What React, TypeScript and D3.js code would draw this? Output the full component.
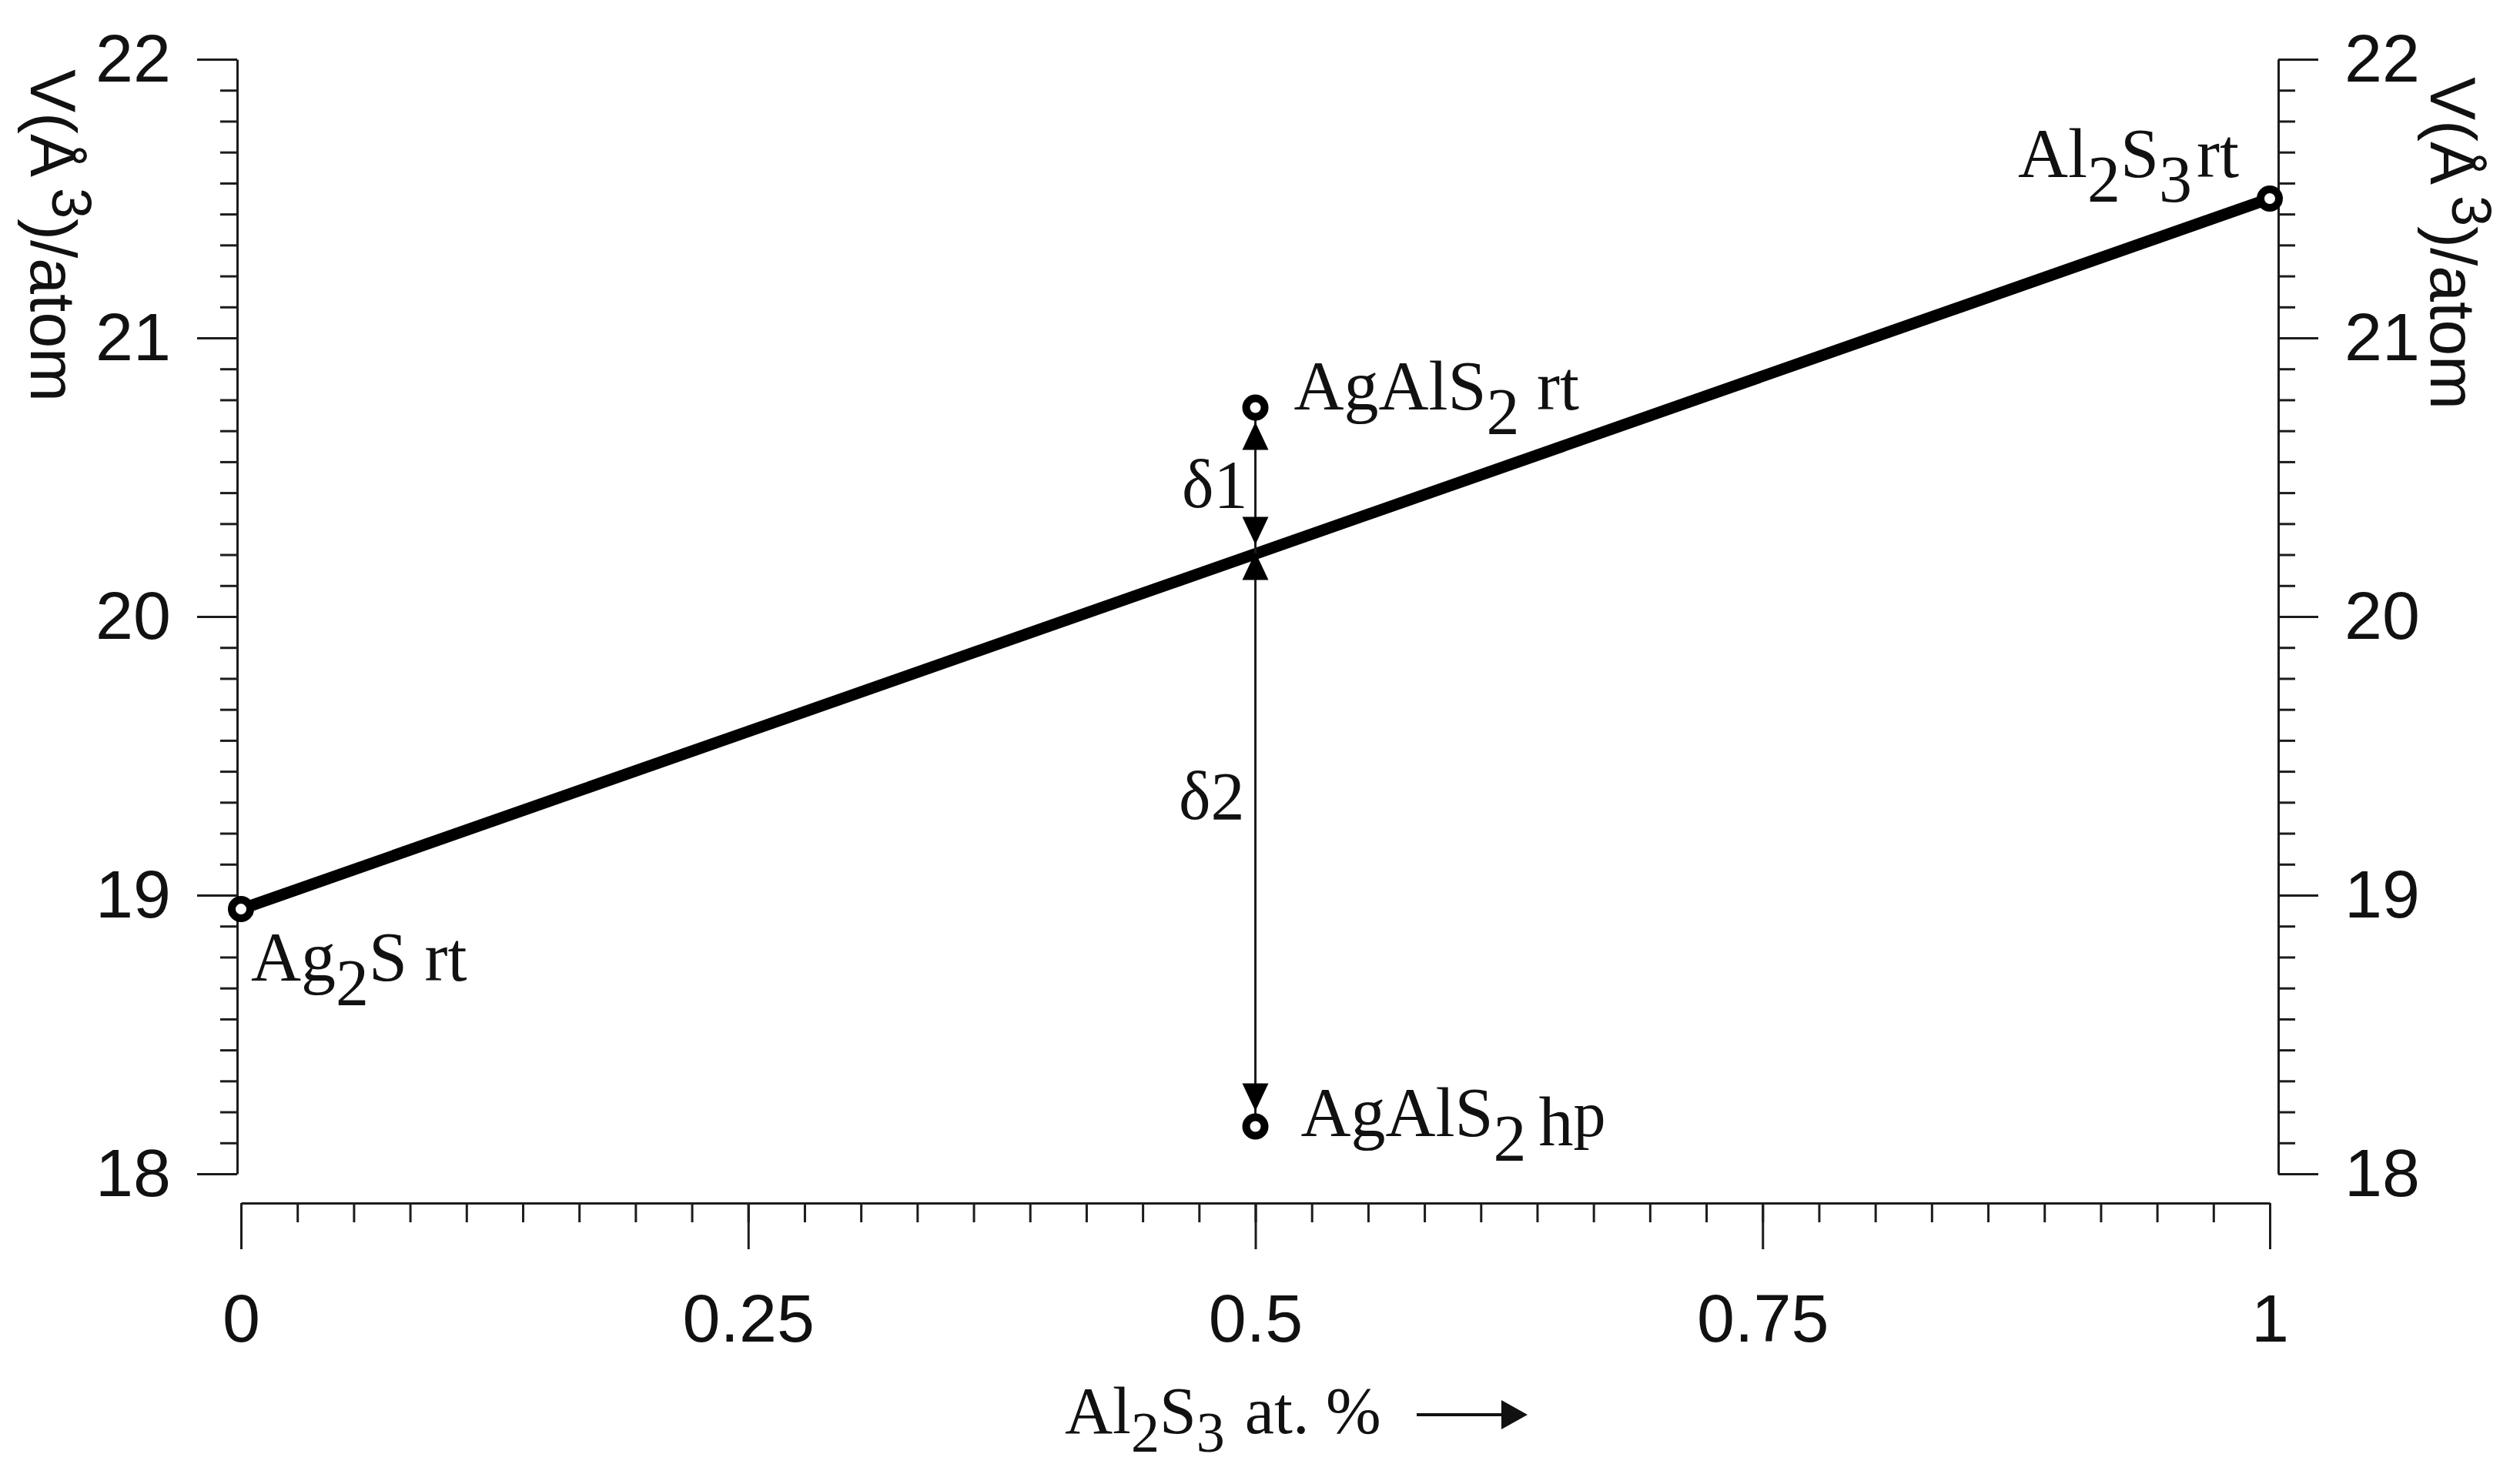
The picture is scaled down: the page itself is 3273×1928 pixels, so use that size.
import React, {useRef, useEffect} from 'react'
import * as d3 from 'd3'

// tick labels
const xMajor = [0, 0.25, 0.5, 0.75, 1]
const xMajorLabels = ['0', '0.25', '0.5', '0.75', '1']
const yMajor = [18, 19, 20, 21, 22]
const yMajorLabels = ['18', '19', '20', '21', '22']

// straight line between the two end members (Ag2S rt -> Al2S3 rt)
const lineX = [0, 1]
const lineV = [18.95, 21.5]

// phases: Ag2S rt, AgAlS2 rt, AgAlS2 hp, Al2S3 rt
const phaseX = [0, 0.5, 0.5, 1]
const phaseV = [18.95, 20.75, 18.17, 21.5]

const W = 3273
const H = 1928
const LEFT_AX = 308
const RIGHT_AX = 2959
const BOTTOM_AX = 1563

const tickFont = "'Liberation Sans Narrow', 'Arial Narrow', 'Liberation Sans', Arial, sans-serif"
const serif = "'Liberation Serif', 'Times New Roman', serif"
const ink = '#1c1c1c'

export default function App() {
  const axRef = useRef<SVGGElement>(null)

  const x = d3.scaleLinear().domain([0, 1]).range([313, 2948])
  const y = d3.scaleLinear().domain([18, 22]).range([1525, 77])

  useEffect(() => {
    const g = d3.select(axRef.current)
    g.selectAll('*').remove()

    // 9 sub-intervals per major step, as in the original
    const yMinor = d3.range(0, 37).map(i => 18 + i / 9)
    const xMinor = d3.range(0, 37).map(i => (i * 0.25) / 9)

    const style = (sel: any) => {
      sel.select('.domain').attr('stroke', ink).attr('stroke-width', 3)
      sel.selectAll('.tick line').attr('stroke', ink).attr('stroke-width', 3)
      sel
        .selectAll('text')
        .attr('font-size', 88)
        .attr('font-family', tickFont)
        .attr('fill', '#111')
    }

    // left
    const gl = g.append('g').attr('transform', `translate(${LEFT_AX},0)`)
    gl.append('g')
      .call(d3.axisLeft(y).tickValues(yMinor).tickSize(22).tickSizeOuter(0).tickFormat(() => ''))
      .call(style)
    gl.append('g')
      .call(
        d3.axisLeft(y).tickValues(yMajor).tickSize(52).tickSizeOuter(0).tickPadding(34)
          .tickFormat((d, i) => yMajorLabels[i])
      )
      .call(style)
      .call(s => s.select('.domain').remove())

    // right
    const gr = g.append('g').attr('transform', `translate(${RIGHT_AX},0)`)
    gr.append('g')
      .call(d3.axisRight(y).tickValues(yMinor).tickSize(22).tickSizeOuter(0).tickFormat(() => ''))
      .call(style)
    gr.append('g')
      .call(
        d3.axisRight(y).tickValues(yMajor).tickSize(52).tickSizeOuter(0).tickPadding(34)
          .tickFormat((d, i) => yMajorLabels[i])
      )
      .call(style)
      .call(s => s.select('.domain').remove())

    // bottom
    const gb = g.append('g').attr('transform', `translate(0,${BOTTOM_AX})`)
    gb.append('g')
      .call(d3.axisBottom(x).tickValues(xMinor).tickSize(25).tickSizeOuter(0).tickFormat(() => ''))
      .call(style)
    gb.append('g')
      .call(
        d3.axisBottom(x).tickValues(xMajor).tickSize(60).tickSizeOuter(0).tickPadding(58)
          .tickFormat((d, i) => xMajorLabels[i])
      )
      .call(style)
      .call(s => s.select('.domain').remove())
  }, [])

  const linePath = d3
    .line<number>()
    .x((d, i) => x(lineX[i]))
    .y(d => y(d))(lineV)

  // value of the straight line at x = 0.5
  const onLine = d3.scaleLinear().domain(lineX).range(lineV)
  const ax = x(0.5)
  const yRt = y(phaseV[1])
  const yHp = y(phaseV[2])
  const yMid = y(onLine(0.5))

  const head = (tip: number, dir: number) =>
    `M${ax},${tip}L${ax - 17},${tip + dir * 36}L${ax + 17},${tip + dir * 36}Z`

  return (
    <svg
      width={W}
      height={H}
      style={{position: 'absolute', left: 0, top: 0, background: '#fff'}}
    >
      <rect width={W} height={H} fill="#fff" />
      <g ref={axRef} />

      {/* axis titles */}
      <text
        transform={`translate(40,306) rotate(90)`}
        textAnchor="middle"
        fontFamily={tickFont}
        fontSize={84}
        fill="#111"
      >
        V(Å<tspan dx="14" dy="-28" fontSize="72">3</tspan>
        <tspan dy="28">)/atom</tspan>
      </text>
      <text
        transform={`translate(3157,316) rotate(90)`}
        textAnchor="middle"
        fontFamily={tickFont}
        fontSize={84}
        fill="#111"
      >
        V(Å<tspan dx="14" dy="-28" fontSize="72">3</tspan>
        <tspan dy="28">)/atom</tspan>
      </text>

      <text x={1383} y={1862} fontFamily={serif} fontSize={86} fill="#111">
        Al<tspan dy="24" fontSize="74">2</tspan>
        <tspan dy="-24">S</tspan>
        <tspan dy="24" fontSize="74">3</tspan>
        <tspan dy="-24" dx="26">at. %</tspan>
      </text>
      <line x1={1840} x2={1960} y1={1838} y2={1838} stroke="#111" strokeWidth={4} />
      <path d="M1984,1838L1950,1819L1950,1857Z" fill="#111" />

      {/* straight line */}
      <path d={linePath || ''} fill="none" stroke="#000" strokeWidth={15} />

      {/* delta arrows */}
      <line x1={ax} x2={ax} y1={yRt + 12} y2={yHp - 12} stroke={ink} strokeWidth={3} />
      <path d={head(yRt + 19, 1)} fill="#000" />
      <path d={head(yMid - 12, -1)} fill="#000" />
      <path d={head(yMid - 2, 1)} fill="#000" />
      <path d={head(yHp - 20, -1)} fill="#000" />
      <text x={ax - 10} y={(yRt + yMid) / 2 + 34} textAnchor="end" fontFamily={serif} fontSize={88} fill="#111">
        δ1
      </text>
      <text x={ax - 14} y={(yMid + yHp) / 2 - 28} textAnchor="end" fontFamily={serif} fontSize={88} fill="#111">
        δ2
      </text>

      {/* phase points */}
      {phaseX.map((px, i) => (
        <circle
          key={i}
          cx={x(px)}
          cy={y(phaseV[i])}
          r={12}
          fill="#fff"
          stroke="#000"
          strokeWidth={10}
        />
      ))}

      {/* phase labels */}
      <text x={x(phaseX[0]) + 13} y={y(phaseV[0]) + 93} fontFamily={serif} fontSize={90} fill="#111">
        Ag<tspan dy="32" fontSize="86">2</tspan>
        <tspan dy="-32">S rt</tspan>
      </text>
      <text x={x(phaseX[1]) + 50} y={yRt + 2} fontFamily={serif} fontSize={90} fill="#111">
        AgAlS<tspan dy="32" fontSize="86">2</tspan>
        <tspan dy="-32"> rt</tspan>
      </text>
      <text x={x(phaseX[2]) + 59} y={yHp + 13} fontFamily={serif} fontSize={90} fill="#111">
        AgAlS<tspan dy="32" fontSize="86">2</tspan>
        <tspan dy="-20" dx="16">h</tspan>
        <tspan dy="-12" fontSize="84">p</tspan>
      </text>
      <text x={x(phaseX[3]) - 327} y={y(phaseV[3]) - 28} fontFamily={serif} fontSize={90} fill="#111">
        Al<tspan dy="32" fontSize="86">2</tspan>
        <tspan dy="-32">S</tspan>
        <tspan dy="32" fontSize="86">3</tspan>
        <tspan dy="-32" dx="6">rt</tspan>
      </text>
    </svg>
  )
}
